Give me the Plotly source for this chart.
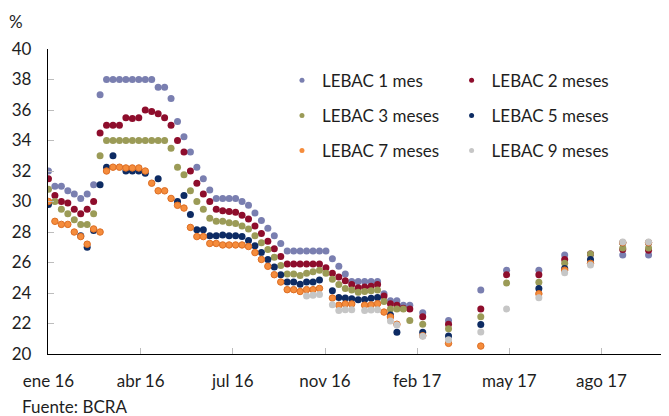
import plotly.graph_objects as go
import pandas as pd

# Week offsets of each LEBAC auction from 5 Jan 2016 (weekly in 2016, monthly in 2017)
semanas = list(range(0, 57)) + [58, 62, 67, 71, 76, 80, 84, 89, 93]

lebac_1 = [32.0, 31.0, 31.0, 30.7, 30.5, 30.2, 30.5, 31.1, 37.0,
           38.0, 38.0, 38.0, 38.0, 38.0, 38.0, 38.0, 38.0,
           37.5, 37.5, 36.75, 35.25, 34.25, 33.25, 32.25, 31.5, 30.75,
           30.2, 30.2, 30.2, 30.2,
           30.0, 29.75, 29.25, 28.75, 28.25, 27.75, 27.25,
           26.75, 26.75, 26.75, 26.75, 26.75, 26.75, 26.75,
           26.25, 25.75, 25.25,
           24.75, 24.75, 24.75, 24.75, 24.75,
           23.95, 23.5, 23.5, 23.2, 23.2,
           22.7, 22.2, 24.2, 25.5, 25.5, 26.5, 26.55, 26.5, 26.5]

lebac_2 = [31.5, 30.4, 30.0, 29.9, 29.5, 29.2, 29.5, 30.0, 34.5,
           35.0, 35.0, 35.0, 35.5, 35.45, 35.5, 36.0, 35.9,
           35.75, 35.5, 35.0, 34.0, 33.25, 32.0, 31.2, 30.5, 30.0,
           29.5, 29.4, 29.35, 29.3,
           29.1, 28.85, 28.4, 27.9, 27.4, 26.9, 26.4,
           25.9, 25.9, 25.9, 25.9, 25.9, 25.9, 25.65,
           25.3, 25.05, 24.8,
           24.55, 24.35, 24.4, 24.45, 24.55,
           23.8, 23.3, 23.2, 23.0, 22.95,
           22.45, 21.95, 22.95, 25.2, 25.2, 26.2, 26.55, 26.85, 26.8]

lebac_3 = [30.8, 30.0, 29.5, 29.2, 28.8, 28.5, 28.5, 29.2, 33.0,
           34.0, 34.0, 34.0, 34.0, 34.0, 34.0, 34.0, 34.0,
           34.0, 34.0, 33.5, 32.25, 31.75, 30.7, 30.0, 29.5, 28.9,
           28.7, 28.7, 28.6, 28.55,
           28.4, 28.2, 27.75, 27.3, 26.85, 26.35, 25.8,
           25.25, 25.25, 25.15, 25.3, 25.4, 25.5, 25.3,
           24.9, 24.55, 24.3,
           24.2, 24.05, 24.1, 24.15, 24.2,
           23.45, 22.95, 22.95, 22.95, 22.2,
           21.95, 21.65, 22.45, 24.65, 24.7, 25.95, 26.55, 26.95, 26.95]

lebac_5 = [29.8, None, None, None, None, 27.75, 27.0, 28.1, 31.1,
           32.25, 33.0, None, 32.0, 32.0, 32.0, 31.85, None,
           31.5, None, None, 30.0, 30.4, 29.15, 28.15, 28.15, 27.75,
           27.75, 27.8, 27.75, 27.75,
           27.7, 27.45, 27.1, 26.65, 26.2, 25.7, 25.2,
           24.72, 24.72, 24.57, 24.72, 24.72, 24.85, None,
           24.15, 23.7, 23.67,
           23.63, 23.55, 23.58, 23.65, 23.7,
           None, 22.55, 21.42, None, None,
           21.42, 21.18, 21.94, None, 24.3, 25.6, 26.2, 27.3, 27.3]

lebac_7 = [30.0, 28.7, 28.5, 28.5, 28.0, 27.7, 27.2, 28.2, 28.0,
           32.0, 32.25, 32.25, 32.2, 32.2, 32.2, 32.0, 31.2,
           30.7, 30.7, 30.2, 29.75, 29.57, 28.3, 27.7, 27.7, 27.25,
           27.25, 27.15, 27.15, 27.15,
           27.15, 27.05, 26.65, 26.2, 25.75, 25.2, 24.72,
           24.22, 24.22, 24.1, 24.22, 24.22, 24.3, None,
           23.67, 23.2, 23.28,
           23.28, None, 23.2, 23.22, 23.3,
           22.75, 22.43, 21.95, None, None,
           21.2, 20.7, 20.52, None, 23.95, 25.5, 25.94, 27.3, 27.3]

lebac_9 = [None] * 40 + [
           23.8, 23.85, 23.9, None,
           23.23, 22.86, 22.9,
           22.9, None, 22.86, 22.88, 22.9,
           None, 22.17, 21.9, None, None,
           21.16, 20.94, 21.44, 22.95, 23.69, 25.33, 25.83, 27.35, 27.35]

series_names = ["LEBAC 1 mes", "LEBAC 2 meses", "LEBAC 3 meses",
                "LEBAC 5 meses", "LEBAC 7 meses", "LEBAC 9 meses"]
series_values = [lebac_1, lebac_2, lebac_3, lebac_5, lebac_7, lebac_9]
series_colors = ["#7A7FB0", "#8E0D2C", "#9B9B57", "#0D2B63", "#F58C3C", "#C6C6C6"]
series_lines = [None, None, None, None, "#DD6E24", None]
series_sizes = [7, 7, 7, 7, 6.5, 7]
series_legend = ["legend", "legend2", "legend", "legend2", "legend", "legend2"]

tick_labels = ["ene 16", "abr 16", "jul 16", "nov 16", "feb 17", "may 17", "ago 17"]
tick_step_days = 100

base = pd.Timestamp("2016-01-05")
fechas = [base + pd.Timedelta(weeks=w) for w in semanas]
tick_vals = [base + pd.Timedelta(days=tick_step_days * i) for i in range(len(tick_labels))]

FONT = "Lato"
TXT = "#1E1E1E"

fig = go.Figure()
for name, vals, col, lc, sz, lg in zip(series_names, series_values, series_colors,
                                       series_lines, series_sizes, series_legend):
    fig.add_trace(go.Scatter(
        x=fechas, y=vals, mode="markers", name=name,
        legendgroup=name, showlegend=False,
        marker=dict(size=sz, color=col,
                    line=dict(width=1 if lc else 0, color=lc if lc else col)),
    ))

# legend entries with the small dots used in the reference legend
for name, col, lg in zip(series_names, series_colors, series_legend):
    fig.add_trace(go.Scatter(
        x=[None], y=[None], mode="markers", name=name,
        legend=lg, legendgroup=name, showlegend=True,
        marker=dict(size=5, color=col),
    ))

legend_common = dict(
    font=dict(family=FONT, size=17, color=TXT),
    bgcolor="rgba(0,0,0,0)", borderwidth=0,
    tracegroupgap=10, yanchor="top", xanchor="left",
    itemwidth=30,
)

# the page body adds an 8px offset, so the figure is 8px smaller than the window
fig.update_layout(
    width=661, height=408,
    margin=dict(l=40, r=2, t=41, b=62),
    paper_bgcolor="white", plot_bgcolor="white",
    font=dict(family=FONT, size=17, color=TXT),
    showlegend=True,
    legend=dict(x=0.378, y=0.955, **legend_common),
    legend2=dict(x=0.652, y=0.955, **legend_common),
    xaxis=dict(
        type="date",
        range=[base - pd.Timedelta(hours=12), base + pd.Timedelta(days=671)],
        tickmode="array", tickvals=tick_vals, ticktext=tick_labels,
        ticks="inside", ticklen=6, tickcolor="#BDBDBD", tickwidth=1,
        showline=True, linecolor="black", linewidth=1.3,
        showgrid=False, zeroline=False,
        tickfont=dict(family=FONT, size=17, color=TXT),
        ticklabelstandoff=11,
    ),
    yaxis=dict(
        range=[20, 40], dtick=2, tick0=20,
        ticks="inside", ticklen=6, tickcolor="#BDBDBD", tickwidth=1,
        showline=True, linecolor="black", linewidth=1.3,
        showgrid=False, zeroline=False,
        tickfont=dict(family=FONT, size=17, color=TXT),
        ticklabelstandoff=12,
    ),
    annotations=[
        dict(text="%", xref="paper", yref="paper", x=-0.052, y=1.09,
             xanchor="center", yanchor="middle", showarrow=False,
             font=dict(family=FONT, size=17, color=TXT)),
        dict(text="Fuente: BCRA", xref="paper", yref="paper", x=-0.046, y=-0.172,
             xanchor="left", yanchor="middle", showarrow=False,
             font=dict(family=FONT, size=17, color=TXT)),
    ],
)

fig.write_html("out.html")
